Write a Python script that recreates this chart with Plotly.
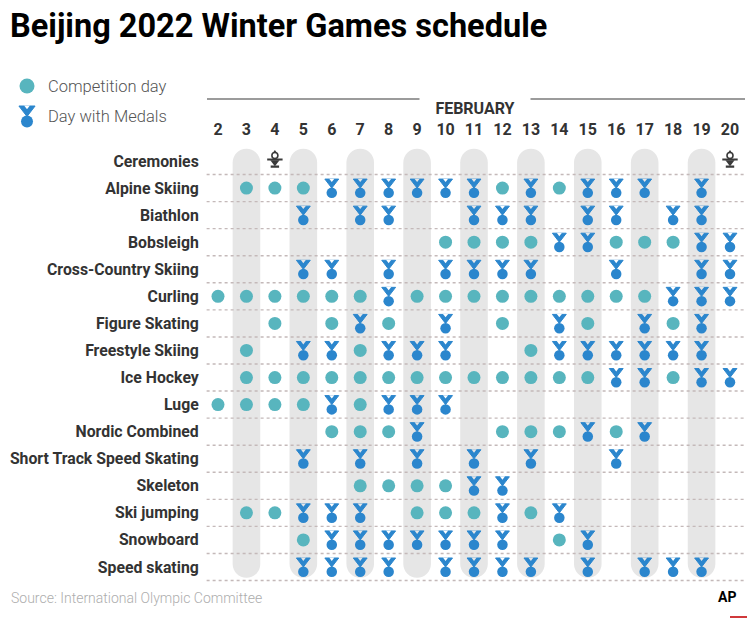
import plotly.graph_objects as go

days = list(range(2, 21))
sports = [
    "Ceremonies", "Alpine Skiing", "Biathlon", "Bobsleigh", "Cross-Country Skiing",
    "Curling", "Figure Skating", "Freestyle Skiing", "Ice Hockey", "Luge",
    "Nordic Combined", "Short Track Speed Skating", "Skeleton", "Ski jumping",
    "Snowboard", "Speed skating",
]
ceremony_days = [4, 20]
# one list per sport, same order as sports
competition_days = [
    [],
    [3, 4, 5, 12, 14],
    [],
    [10, 11, 12, 13, 16, 17, 18],
    [],
    [2, 3, 4, 5, 6, 7, 9, 10, 11, 12, 13, 14, 15, 16, 17],
    [4, 6, 8, 12, 15, 18],
    [3, 7, 13],
    [3, 4, 5, 6, 7, 8, 9, 10, 11, 12, 13, 14, 15, 18],
    [2, 3, 4, 5, 7],
    [6, 7, 8, 12, 13, 14, 16],
    [],
    [7, 8, 9, 10],
    [3, 4, 9, 10, 11, 13],
    [5, 14],
    [],
]
medal_days = [
    [],
    [6, 7, 8, 9, 10, 11, 13, 15, 16, 17, 19],
    [5, 7, 8, 11, 12, 13, 15, 16, 18, 19],
    [14, 15, 19, 20],
    [5, 6, 8, 10, 11, 12, 13, 16, 19, 20],
    [8, 18, 19, 20],
    [7, 10, 14, 17, 19],
    [5, 6, 8, 9, 10, 14, 15, 16, 17, 18, 19],
    [16, 17, 19, 20],
    [6, 8, 9, 10],
    [9, 15, 17],
    [5, 7, 9, 11, 13, 16],
    [11, 12],
    [5, 6, 7, 12, 14],
    [6, 7, 8, 9, 10, 11, 12, 15],
    [5, 6, 7, 8, 10, 11, 12, 13, 15, 17, 18, 19],
]

# ---- style ----
W, H = 750, 624
TEAL = "#58b5be"
BLUE = "#2b86cd"
STRIPE = "#e6e6e6"
DARK = "#333333"
ICON = "#3a3a3a"
NARROW = "Liberation Sans Narrow, Roboto, sans-serif"

ROW_PX = 27.067          # pixels per row
DAY_PX = 28.444          # pixels per day
x_range = [days[0] - 0.5, days[-1] + 0.5]
y_range = [len(sports) - 0.2, -0.8]
plot_left, plot_right = 218 - 0.5 * DAY_PX, 730 + 0.5 * DAY_PX
plot_top, plot_bot = 161 - 0.8 * ROW_PX, 567 + 0.8 * ROW_PX

striped = days[1::2]


def dy(px):
    return px / ROW_PX


cx, cy, mx, my, notch_col = [], [], [], [], []
for i, sport in enumerate(sports):
    for d in competition_days[i]:
        cx.append(d)
        cy.append(i)
    for d in medal_days[i]:
        mx.append(d)
        my.append(i)
        notch_col.append(STRIPE if d in striped else "white")

fig = go.Figure()

# competition days
fig.add_trace(go.Scatter(x=cx, y=cy, mode="markers", hoverinfo="skip",
                         marker=dict(symbol="circle", size=13, color=TEAL,
                                     line=dict(width=0))))
# medal days: ribbon, notch, disc
fig.add_trace(go.Scatter(x=mx, y=[v + dy(-6) for v in my], mode="markers", hoverinfo="skip",
                         marker=dict(symbol="triangle-down", size=12, color=BLUE,
                                     line=dict(width=1, color=BLUE))))
fig.add_trace(go.Scatter(x=mx, y=[v + dy(-8.3) for v in my], mode="markers", hoverinfo="skip",
                         marker=dict(symbol="triangle-down", size=4.5, color=notch_col,
                                     line=dict(width=0))))
fig.add_trace(go.Scatter(x=mx, y=[v + dy(4.8) for v in my], mode="markers", hoverinfo="skip",
                         marker=dict(symbol="circle", size=10.5, color=BLUE,
                                     line=dict(width=0))))

# ceremony torch
row0 = sports.index("Ceremonies")
tx = ceremony_days
fig.add_trace(go.Scatter(x=tx, y=[row0 + dy(-5.5)] * len(tx), mode="markers", hoverinfo="skip",
                         marker=dict(symbol="circle-open", size=6, color=ICON,
                                     line=dict(width=1.6, color=ICON))))
fig.add_trace(go.Scatter(x=tx, y=[row0 + dy(-9.2)] * len(tx), mode="markers", hoverinfo="skip",
                         marker=dict(symbol="triangle-up", size=3.5, color=ICON)))
fig.add_trace(go.Scatter(x=tx, y=[row0 + dy(-1.6)] * len(tx), mode="markers", hoverinfo="skip",
                         marker=dict(symbol="line-ew", size=11, line=dict(width=2, color=ICON))))
fig.add_trace(go.Scatter(x=tx, y=[row0 + dy(1.2)] * len(tx), mode="markers", hoverinfo="skip",
                         marker=dict(symbol="triangle-down", size=8, color=ICON)))
fig.add_trace(go.Scatter(x=tx, y=[row0 + dy(5.6)] * len(tx), mode="markers", hoverinfo="skip",
                         marker=dict(symbol="line-ew", size=6, line=dict(width=2.2, color=ICON))))

# legend keys on a pixel-unit helper axis
fig.add_trace(go.Scatter(x=[27], y=[86], xaxis="x2", yaxis="y2", mode="markers", hoverinfo="skip",
                         marker=dict(symbol="circle", size=15, color=TEAL)))
fig.add_trace(go.Scatter(x=[27], y=[116 - 6.5], xaxis="x2", yaxis="y2", mode="markers",
                         hoverinfo="skip",
                         marker=dict(symbol="triangle-down", size=14, color=BLUE,
                                     line=dict(width=1, color=BLUE))))
fig.add_trace(go.Scatter(x=[27], y=[116 - 9.3], xaxis="x2", yaxis="y2", mode="markers",
                         hoverinfo="skip",
                         marker=dict(symbol="triangle-down", size=5, color="white")))
fig.add_trace(go.Scatter(x=[27], y=[116 + 5.5], xaxis="x2", yaxis="y2", mode="markers",
                         hoverinfo="skip",
                         marker=dict(symbol="circle", size=12, color=BLUE)))

# grey day stripes with rounded ends, then dotted row rules
shapes = []
hw = 13.8 / DAY_PX
r = 13.8 / ROW_PX
k = 0.5523
top, bot = -0.45, len(sports) - 1 + 0.4
for d in striped:
    path = (
        f"M{d - hw},{top + r} "
        f"C{d - hw},{top + r - k * r} {d - k * hw},{top} {d},{top} "
        f"C{d + k * hw},{top} {d + hw},{top + r - k * r} {d + hw},{top + r} "
        f"L{d + hw},{bot - r} "
        f"C{d + hw},{bot - r + k * r} {d + k * hw},{bot} {d},{bot} "
        f"C{d - k * hw},{bot} {d - hw},{bot - r + k * r} {d - hw},{bot - r} Z"
    )
    shapes.append(dict(type="path", path=path, xref="x", yref="y", layer="below",
                       fillcolor=STRIPE, line=dict(width=0)))
for i in range(len(sports)):
    shapes.append(dict(type="line", xref="x", yref="y", layer="below",
                       x0=x_range[0] + 0.1, x1=x_range[1], y0=i + 0.5, y1=i + 0.5,
                       line=dict(color="#c4b9b9", width=1.4, dash="dot")))
# FEBRUARY rule
shapes.append(dict(type="line", xref="paper", yref="paper",
                   x0=207 / W, x1=745 / W, y0=1 - 99 / H, y1=1 - 99 / H,
                   line=dict(color="#7a7a7a", width=1.4)))
# AP logo underline
shapes.append(dict(type="line", xref="paper", yref="paper",
                   x0=730 / W, x1=747 / W, y0=1 - 617 / H, y1=1 - 617 / H,
                   line=dict(color="#d0393b", width=2)))

annotations = [
    dict(text="FEBRUARY", x=475 / W, y=1 - 97 / H, xref="paper", yref="paper",
         showarrow=False, bgcolor="white", width=108,
         font=dict(family=NARROW, size=16, color=DARK, weight="bold")),
    dict(text="Competition day", x=46, y=86, xref="x2", yref="y2", xanchor="left",
         showarrow=False, font=dict(family=NARROW, size=16.5, color="#555555", weight=300)),
    dict(text="Day with Medals", x=46, y=116, xref="x2", yref="y2", xanchor="left",
         showarrow=False, font=dict(family=NARROW, size=16.5, color="#555555", weight=300)),
    dict(text="Source: International Olympic Committee", x=9 / W, y=1 - 608 / H,
         xref="paper", yref="paper", xanchor="left", showarrow=False,
         font=dict(family=NARROW, size=14, color="#adadad", weight=300)),
    dict(text="AP", x=738 / W, y=1 - 607 / H, xref="paper", yref="paper",
         showarrow=False, font=dict(family=NARROW, size=14, color="black", weight="bold")),
]

fig.update_layout(
    width=W, height=H,
    margin=dict(l=0, r=0, t=0, b=0),
    paper_bgcolor="white", plot_bgcolor="white",
    showlegend=False,
    title=dict(text="Beijing 2022 Winter Games schedule", x=10 / W, y=1 - 26 / H,
               xref="container", yref="container", xanchor="left", yanchor="middle",
               font=dict(family=NARROW, size=32.5, color="black", weight="bold")),
    xaxis=dict(domain=[plot_left / W, plot_right / W], range=x_range, side="top",
               tickvals=days, ticktext=[str(d) for d in days], ticks="",
               automargin=False,
               tickfont=dict(family=NARROW, size=16, color=DARK, weight="bold"),
               showgrid=False, zeroline=False, showline=False, fixedrange=True),
    yaxis=dict(domain=[1 - plot_bot / H, 1 - plot_top / H], range=y_range,
               tickvals=list(range(len(sports))), ticktext=sports, ticks="",
               ticklabelstandoff=4, automargin=False,
               tickfont=dict(family=NARROW, size=15.8, color=DARK, weight="bold"),
               showgrid=False, zeroline=False, showline=False, fixedrange=True),
    xaxis2=dict(domain=[0, 0.27], range=[0, 0.27 * W], visible=False, fixedrange=True,
                automargin=False),
    yaxis2=dict(domain=[1 - 140 / H, 1 - 60 / H], range=[140, 60], visible=False,
                fixedrange=True, automargin=False),
    shapes=shapes,
    annotations=annotations,
)

# the page's default 8px body margin would push the 750x624 figure off-window
fig.write_html("out.html", config={"displayModeBar": False},
               post_script="document.body.style.margin = '0';")
